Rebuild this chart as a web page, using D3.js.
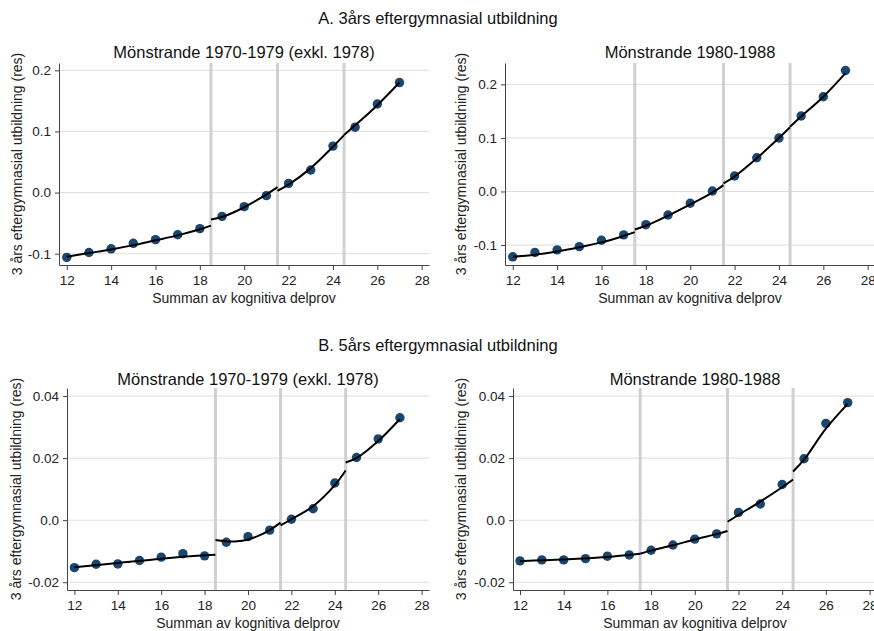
<!DOCTYPE html>
<html>
<head>
<meta charset="utf-8">
<script src="https://cdn.jsdelivr.net/npm/d3@7"></script>
<style>
  body { margin: 0; background: #fff; }
  svg { display: block; font-family: "Liberation Sans", Arial, sans-serif; }
</style>
</head>
<body>
<div id="vis"><svg width="874" height="631"></svg></div>
<script>
// ---- data ----
const sectionTitles = ["A. 3års eftergymnasial utbildning", "B. 5års eftergymnasial utbildning"];
const panelTitles = ["Mönstrande 1970-1979 (exkl. 1978)", "Mönstrande 1980-1988"];
const xTitle = "Summan av kognitiva delprov";
const yTitle = "3 års eftergymnasial utbildning (res)";

const scores = [12, 13, 14, 15, 16, 17, 18, 19, 20, 21, 22, 23, 24, 25, 26, 27];
const xTicks = [12, 14, 16, 18, 20, 22, 24, 26, 28];

const yTicksA = [-0.1, 0, 0.1, 0.2];
const yTickLabelsA = ["-0.1", "0.0", "0.1", "0.2"];
const yTicksB = [-0.02, 0, 0.02, 0.04];
const yTickLabelsB = ["-0.02", "0.0", "0.02", "0.04"];

const cutoffs1970 = [18.5, 21.5, 24.5];
const cutoffs1980 = [17.5, 21.5, 24.5];

// binned residual means
const threeYear1970 = [-0.106, -0.098, -0.092, -0.083, -0.077, -0.069, -0.059, -0.039,
  -0.023, -0.005, 0.015, 0.037, 0.076, 0.107, 0.145, 0.180];
const threeYear1980 = [-0.122, -0.114, -0.109, -0.103, -0.091, -0.081, -0.062, -0.044,
  -0.022, 0.001, 0.029, 0.063, 0.100, 0.141, 0.177, 0.226];
const fiveYear1970 = [-0.0153, -0.0142, -0.0141, -0.0130, -0.0119, -0.0108, -0.0115, -0.0071,
  -0.0053, -0.0032, 0.0003, 0.0037, 0.0120, 0.0202, 0.0262, 0.0330];
const fiveYear1980 = [-0.0131, -0.0128, -0.0128, -0.0124, -0.0116, -0.0112, -0.0097, -0.0080,
  -0.0061, -0.0044, 0.0025, 0.0052, 0.0115, 0.0198, 0.0312, 0.0379];

// fitted lines, one list of [score, value] per segment between cutoffs
const threeYearFit1970 = [
  [[12, -0.105], [13, -0.099], [14, -0.093], [15, -0.086], [16, -0.078], [17, -0.070], [18, -0.060], [18.5, -0.054]],
  [[18.5, -0.044], [19, -0.040], [20, -0.024], [21, -0.003], [21.5, 0.009]],
  [[21.5, 0.003], [22, 0.013], [23, 0.040], [24, 0.075], [24.5, 0.094]],
  [[24.5, 0.094], [25, 0.110], [26, 0.143], [27, 0.180]]
];
const threeYearFit1980 = [
  [[12, -0.122], [13, -0.118], [14, -0.112], [15, -0.104], [16, -0.095], [17, -0.083], [17.5, -0.076]],
  [[17.5, -0.071], [18, -0.064], [19, -0.045], [20, -0.024], [21, -0.002], [21.5, 0.012]],
  [[21.5, 0.015], [22, 0.028], [23, 0.062], [24, 0.100], [24.5, 0.120]],
  [[24.5, 0.121], [25, 0.140], [26, 0.177], [27, 0.221]]
];
const fiveYearFit1970 = [
  [[12, -0.0152], [14, -0.0138], [16, -0.0124], [18, -0.0113], [18.5, -0.0111]],
  [[18.5, -0.0064], [19, -0.0068], [19.5, -0.0068], [20, -0.0062], [20.5, -0.0050], [21, -0.0032], [21.5, -0.0008]],
  [[21.5, -0.0017], [22, 0.0003], [23, 0.0045], [24, 0.0113], [24.5, 0.0160]],
  [[24.5, 0.0186], [25, 0.0200], [26, 0.0255], [27, 0.0326]]
];
const fiveYearFit1980 = [
  [[12, -0.0132], [14, -0.0127], [16, -0.0119], [17, -0.0112], [17.5, -0.0108]],
  [[17.5, -0.0108], [18, -0.0098], [19, -0.0081], [20, -0.0062], [21, -0.0045], [21.5, -0.0035]],
  [[21.5, -0.0005], [22, 0.0017], [23, 0.0060], [24, 0.0106], [24.5, 0.0131]],
  [[24.5, 0.0157], [25, 0.0195], [26, 0.0295], [27, 0.0375]]
];

// ---- layout ----
const svg = d3.select("#vis").select("svg");
const dotColor = "#1a476f";

const panels = [
  { left: 59, right: 429, top: 63, bottom: 265, xDomain: [11.65, 28.33], yDomain: [-0.1185, 0.212],
    ticks: yTicksA, labels: yTickLabelsA, cuts: cutoffs1970, dots: threeYear1970, fit: threeYearFit1970,
    title: panelTitles[0], titleY: 58, yTitleX: 22 },
  { left: 505, right: 875, top: 63, bottom: 265, xDomain: [11.65, 28.33], yDomain: [-0.1373, 0.240],
    ticks: yTicksA, labels: yTickLabelsA, cuts: cutoffs1980, dots: threeYear1980, fit: threeYearFit1980,
    title: panelTitles[1], titleY: 58, yTitleX: 466 },
  { left: 67, right: 429, top: 388, bottom: 590, xDomain: [11.66, 28.34], yDomain: [-0.0225, 0.0426],
    ticks: yTicksB, labels: yTickLabelsB, cuts: cutoffs1970, dots: fiveYear1970, fit: fiveYearFit1970,
    title: panelTitles[0], titleY: 385, yTitleX: 21 },
  { left: 513, right: 877, top: 388, bottom: 590, xDomain: [11.68, 28.34], yDomain: [-0.0225, 0.0426],
    ticks: yTicksB, labels: yTickLabelsB, cuts: cutoffs1980, dots: fiveYear1980, fit: fiveYearFit1980,
    title: panelTitles[1], titleY: 385, yTitleX: 466 }
];

svg.append("text")
  .attr("x", 438).attr("y", 24)
  .attr("text-anchor", "middle")
  .attr("font-size", 16.5).attr("fill", "#111")
  .text(sectionTitles[0]);

svg.append("text")
  .attr("x", 438).attr("y", 351)
  .attr("text-anchor", "middle")
  .attr("font-size", 16.5).attr("fill", "#111")
  .text(sectionTitles[1]);

function drawPanel(p) {
  const g = svg.append("g");
  const x = d3.scaleLinear().domain(p.xDomain).range([p.left, p.right]);
  const y = d3.scaleLinear().domain(p.yDomain).range([p.bottom, p.top]);

  // horizontal grid
  g.append("g").selectAll("line")
    .data(p.ticks)
    .join("line")
    .attr("x1", p.left).attr("x2", p.right)
    .attr("y1", d => y(d)).attr("y2", d => y(d))
    .attr("stroke", "#dedede").attr("stroke-width", 1);

  // cutoff lines
  g.append("g").selectAll("line")
    .data(p.cuts)
    .join("line")
    .attr("x1", d => x(d)).attr("x2", d => x(d))
    .attr("y1", p.top).attr("y2", p.bottom)
    .attr("stroke", "#d0d0d0").attr("stroke-width", 3);

  const line = d3.line()
    .x(d => x(d[0]))
    .y(d => y(d[1]))
    .curve(d3.curveCatmullRom);

  // dots
  g.append("g").selectAll("circle")
    .data(p.dots)
    .join("circle")
    .attr("cx", (d, i) => x(scores[i]))
    .attr("cy", d => y(d))
    .attr("r", 4.7)
    .attr("fill", dotColor);

  // fitted segments on top
  g.append("g").selectAll("path")
    .data(p.fit)
    .join("path")
    .attr("d", line)
    .attr("fill", "none")
    .attr("stroke", "#000")
    .attr("stroke-width", 2);

  // axes
  const yAxis = d3.axisLeft(y)
    .tickValues(p.ticks)
    .tickFormat((d, i) => p.labels[i])
    .tickSize(4).tickSizeOuter(0).tickPadding(4);
  const xAxis = d3.axisBottom(x)
    .tickValues(xTicks)
    .tickFormat(d => d)
    .tickSize(5).tickSizeOuter(0).tickPadding(5);

  const ya = g.append("g")
    .attr("transform", `translate(${p.left},0)`)
    .call(yAxis);
  const xa = g.append("g")
    .attr("transform", `translate(0,${p.bottom})`)
    .call(xAxis);

  [ya, xa].forEach(a => {
    a.attr("font-family", null).attr("font-size", 13.5);
    a.select(".domain").attr("stroke", "#444");
    a.selectAll(".tick line").attr("stroke", "#444");
    a.selectAll(".tick text").attr("fill", "#222");
  });

  // titles
  g.append("text")
    .attr("x", (p.left + p.right) / 2).attr("y", p.titleY)
    .attr("text-anchor", "middle")
    .attr("font-size", 16.5).attr("fill", "#111")
    .text(p.title);

  g.append("text")
    .attr("x", (p.left + p.right) / 2).attr("y", p.bottom + 38)
    .attr("text-anchor", "middle")
    .attr("font-size", 14).attr("fill", "#222")
    .text(xTitle);

  g.append("text")
    .attr("transform", `translate(${p.yTitleX},${(p.top + p.bottom) / 2}) rotate(-90)`)
    .attr("text-anchor", "middle")
    .attr("font-size", 14).attr("fill", "#222")
    .text(yTitle);
}

panels.forEach(drawPanel);
</script>
</body>
</html>
